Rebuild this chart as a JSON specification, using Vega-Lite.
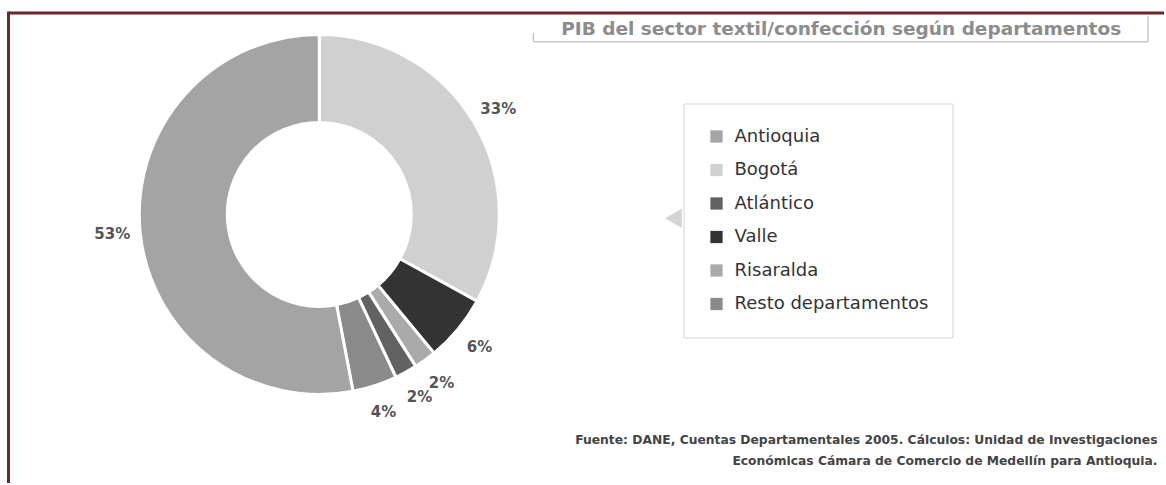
{
  "$schema": "https://vega.github.io/schema/vega-lite/v6.json",
  "width": 1166,
  "height": 485,
  "autosize": {"type": "fit", "contains": "padding"},
  "padding": {"left": 6.5, "top": 9, "right": 0, "bottom": 0},
  "background": "white",
  "title": {
    "text": ["Fuente: DANE, Cuentas Departamentales 2005. Cálculos: Unidad de Investigaciones", "Económicas Cámara de Comercio de Medellín para Antioquia."],
    "orient": "bottom",
    "anchor": "end",
    "align": "right",
    "baseline": "top",
    "offset": -50,
    "dx": -8,
    "fontSize": 12.3,
    "fontWeight": "bold",
    "color": "#444444",
    "font": "DejaVu Sans",
    "lineHeight": 21
  },
  "datasets": {
    "pib": [
      {"departamento": "Bogotá", "porcentaje": 33},
      {"departamento": "Valle", "porcentaje": 6},
      {"departamento": "Risaralda", "porcentaje": 2},
      {"departamento": "Atlántico", "porcentaje": 2},
      {"departamento": "Resto departamentos", "porcentaje": 4},
      {"departamento": "Antioquia", "porcentaje": 53}
    ]
  },
  "layer": [
    {
      "data": {"values": [{}]},
      "mark": {"type": "rule", "color": "#6b2626", "strokeWidth": 3},
      "encoding": {
        "x": {"datum": 0, "type": "quantitative", "scale": {"domain": [0, 1158], "nice": false, "zero": false}, "axis": null},
        "x2": {"datum": 1160},
        "y": {"datum": 0, "type": "quantitative", "scale": {"domain": [0, 473], "reverse": true, "nice": false, "zero": false}, "axis": null}
      }
    },
    {
      "data": {"values": [{}]},
      "mark": {"type": "rule", "color": "#6b2626", "strokeWidth": 3},
      "encoding": {
        "x": {"datum": 0, "type": "quantitative", "axis": null},
        "y": {"datum": -1.5, "type": "quantitative", "axis": null},
        "y2": {"datum": 476}
      }
    },
    {
      "data": {"values": [{}]},
      "mark": {"type": "rule", "color": "#c6c6c6", "strokeWidth": 1.5},
      "encoding": {
        "x": {"datum": 527, "type": "quantitative", "axis": null},
        "x2": {"datum": 1144},
        "y": {"datum": 29, "type": "quantitative", "axis": null}
      }
    },
    {
      "data": {"values": [{}]},
      "mark": {"type": "rule", "color": "#c6c6c6", "strokeWidth": 1.5},
      "encoding": {
        "x": {"datum": 527, "type": "quantitative", "axis": null},
        "y": {"datum": 20, "type": "quantitative", "axis": null},
        "y2": {"datum": 29}
      }
    },
    {
      "data": {"values": [{}]},
      "mark": {"type": "rule", "color": "#c6c6c6", "strokeWidth": 1.5},
      "encoding": {
        "x": {"datum": 1144, "type": "quantitative", "axis": null},
        "y": {"datum": 3, "type": "quantitative", "axis": null},
        "y2": {"datum": 29}
      }
    },
    {
      "data": {"values": [{"titulo": "PIB del sector textil/confección según departamentos"}]},
      "mark": {"type": "text", "align": "right", "baseline": "middle", "fontSize": 18.5, "fontWeight": "bold", "color": "#8c8c8c", "font": "DejaVu Sans"},
      "encoding": {
        "x": {"datum": 1117, "type": "quantitative", "axis": null},
        "y": {"datum": 16, "type": "quantitative", "axis": null},
        "text": {"field": "titulo", "type": "nominal"}
      }
    },
    {
      "data": {"name": "pib"},
      "transform": [{"window": [{"op": "row_number", "as": "orden"}]}],
      "mark": {"type": "arc", "outerRadius": 180, "innerRadius": 92, "stroke": "white", "strokeWidth": 3},
      "encoding": {
        "x": {"datum": 312, "type": "quantitative", "axis": null},
        "y": {"datum": 204, "type": "quantitative", "axis": null},
        "theta": {"field": "porcentaje", "type": "quantitative", "stack": true},
        "order": {"field": "orden", "type": "quantitative"},
        "color": {"field": "departamento", "type": "nominal",
          "scale": {"domain": ["Antioquia", "Bogotá", "Atlántico", "Valle", "Risaralda", "Resto departamentos"],
                    "range": ["#a4a4a4", "#d0d0d1", "#626262", "#333333", "#aaaaaa", "#8a8a8a"]},
          "legend": {"orient": "none", "legendX": 675, "legendY": 90.5, "title": null, "symbolType": "square", "symbolSize": 150, "symbolStrokeWidth": 0,
            "labelFontSize": 18, "labelColor": "#333333", "labelFont": "DejaVu Sans", "labelOffset": 9, "labelLimit": 400, "rowPadding": 15.5, "padding": 24,
            "strokeColor": "#d4d4d4", "direction": "vertical"}}
      }
    },
    {
      "data": {"name": "pib"},
      "transform": [
        {"window": [{"op": "row_number", "as": "orden"}]},
        {"calculate": "datum.porcentaje + '%'", "as": "etiqueta"}
      ],
      "mark": {"type": "text", "radius": 208, "fontSize": 15, "fontWeight": "bold", "color": "#555555", "font": "DejaVu Sans"},
      "encoding": {
        "x": {"datum": 312, "type": "quantitative", "axis": null},
        "y": {"datum": 204, "type": "quantitative", "axis": null},
        "theta": {"field": "porcentaje", "type": "quantitative", "stack": true},
        "order": {"field": "orden", "type": "quantitative"},
        "text": {"field": "etiqueta", "type": "nominal"}
      }
    },
    {
      "data": {"values": [{}]},
      "mark": {"type": "point", "shape": "triangle-left", "filled": true, "color": "#d4d4d4", "opacity": 1, "size": 380},
      "encoding": {
        "x": {"datum": 667.5, "type": "quantitative", "axis": null},
        "y": {"datum": 208, "type": "quantitative", "axis": null}
      }
    }
  ],
  "config": {"view": {"stroke": null}}
}
